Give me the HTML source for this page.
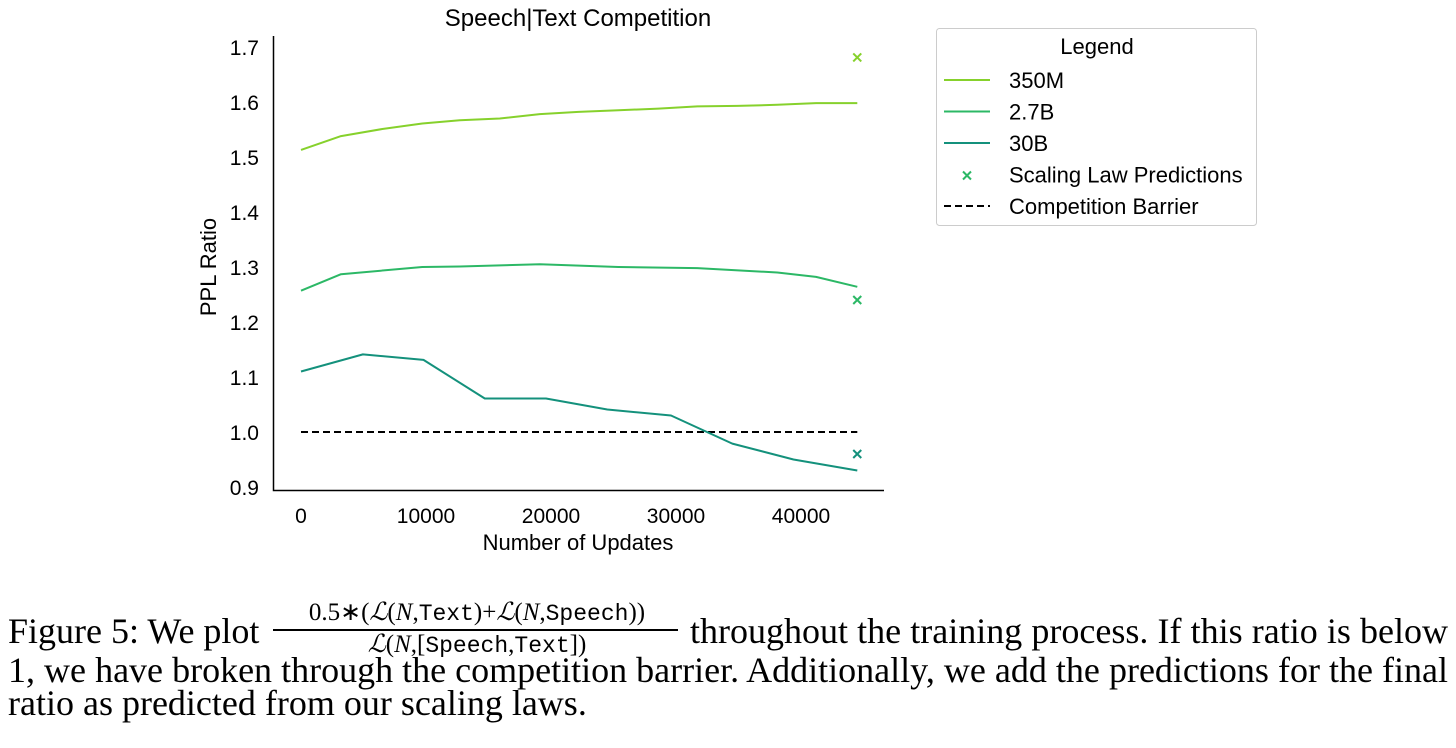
<!DOCTYPE html>
<html><head><meta charset="utf-8"><style>
html,body{margin:0;padding:0;background:#fff;width:1456px;height:748px;overflow:hidden;position:relative}
svg{position:absolute;left:0;top:0}
.cap{position:absolute;font-family:"Liberation Serif",serif;font-size:36px;line-height:40px;color:#000;white-space:nowrap}
.frac{position:absolute;font-family:"Liberation Serif",serif;font-size:25px;line-height:26px;white-space:nowrap;text-align:center}
.mono{font-family:"Liberation Mono",monospace;font-size:23px}
</style></head><body>
<svg id="chart" width="1456" height="590" font-family="Liberation Sans, sans-serif"></svg>

<div class="cap" style="left:8px;top:611px">Figure 5: We plot</div>
<div class="frac" style="left:262px;top:600px;width:430px">0.5∗(<i>ℒ</i>(<i>N</i>,<span class="mono">Text</span>)+<i>ℒ</i>(<i>N</i>,<span class="mono">Speech</span>))</div>
<div style="position:absolute;left:273px;top:629px;width:405px;height:1.5px;background:#000"></div>
<div class="frac" style="left:262px;top:632px;width:430px"><i>ℒ</i>(<i>N</i>,[<span class="mono">Speech</span>,<span class="mono">Text</span>])</div>
<div class="cap" style="left:690px;top:611px;width:758px;text-align:justify;text-align-last:justify">throughout the training process. If this ratio is below</div>
<div class="cap" style="left:8px;top:650px;width:1440px;text-align:justify;text-align-last:justify">1, we have broken through the competition barrier. Additionally, we add the predictions for the final</div>
<div class="cap" style="left:8px;top:683px">ratio as predicted from our scaling laws.</div>

<script>
const xTicks=[0,10000,20000,30000,40000];
const yTicks=[0.9,1.0,1.1,1.2,1.3,1.4,1.5,1.6,1.7];
const x350M=[0,3200,6500,9700,12700,15900,19100,22200,25400,28600,31700,34900,38100,41200,44500];
const y350M=[1.513,1.538,1.551,1.561,1.567,1.570,1.578,1.582,1.585,1.588,1.592,1.593,1.595,1.598,1.598];
const x27B=[0,3200,9700,12700,19100,25400,31700,38100,41200,44500];
const y27B=[1.257,1.287,1.300,1.301,1.305,1.300,1.298,1.290,1.282,1.264];
const x30B=[0,4950,9800,14700,19600,24500,29600,34500,39400,44500];
const y30B=[1.110,1.141,1.131,1.061,1.061,1.041,1.030,0.979,0.950,0.930];
const predX=[44500,44500,44500];
const predY=[1.681,1.240,0.960];
const barrierY=1.0;
const barrierX=[0,44500];

const NS="http://www.w3.org/2000/svg";
const svg=document.getElementById('chart');
function X(v){return 301+v*0.0125;}
function Y(v){return 432-(v-1.0)*550;}
function el(t,a,p){const e=document.createElementNS(NS,t);for(const k in a)e.setAttribute(k,a[k]);(p||svg).appendChild(e);return e;}
function txt(s,a){const e=el('text',a);e.textContent=s;return e;}

let t=txt('Speech|Text Competition',{x:578,y:26,'text-anchor':'middle','font-size':24,fill:'#000'});


let ax=el('path',{d:'M273.5,36 V490.5 H884',stroke:'#000','stroke-width':1.5,fill:'none'});


xTicks.forEach(v=>{const e=txt(String(v),{x:X(v),y:523,'text-anchor':'middle','font-size':21,fill:'#000'});

});
yTicks.forEach(v=>{const e=txt(v.toFixed(1),{x:259,y:Y(v)+8,'text-anchor':'end','font-size':21,fill:'#000'});

});
t=txt('Number of Updates',{x:578,y:550,'text-anchor':'middle','font-size':22,fill:'#000'});


t=txt('PPL Ratio',{x:0,y:0,'text-anchor':'middle','font-size':22,fill:'#000',transform:'translate(216,267) rotate(-90)'});



function line(xs,ys,c,name){const d=xs.map((x,i)=>(i?'L':'M')+X(x).toFixed(1)+','+Y(ys[i]).toFixed(1)).join(' ');
const p=el('path',{d:d,stroke:c,'stroke-width':2,fill:'none','stroke-linejoin':'round'});

}
const c350='#86d12c',c27='#2cb866',c30='#14917c';
line(barrierX,[barrierY,barrierY],'#000','competition-barrier');
svg.lastChild.setAttribute('stroke-dasharray','7,4');
line(x350M,y350M,c350,'line-350m');
line(x27B,y27B,c27,'line-2-7b');
line(x30B,y30B,c30,'line-30b');
const pc=[c350,c27,c30];
function cross(cx,cy,c,name){const s=4;const p=el('path',{d:`M${cx-s},${cy-s} L${cx+s},${cy+s} M${cx-s},${cy+s} L${cx+s},${cy-s}`,stroke:c,'stroke-width':2});

}
predX.forEach((x,i)=>cross(X(x),Y(predY[i]),pc[i],'scaling-law-prediction'));

const lg=el('g',{});


el('rect',{x:936.5,y:28.5,width:320,height:197,rx:3,fill:'#fff',stroke:'#ccc'},lg);
t=txt('Legend',{x:1097,y:54,'text-anchor':'middle','font-size':22,fill:'#000'});


const items=[['350M',c350,'l'],['2.7B',c27,'l'],['30B',c30,'l'],['Scaling Law Predictions',c27,'x'],['Competition Barrier','#000','d']];
items.forEach((it,i)=>{const y=80+i*31.5;
if(it[2]==='x'){cross(967,y+1,it[1],'legend-marker');}
else{const l=el('line',{x1:944,x2:990,y1:y,y2:y,stroke:it[1],'stroke-width':2});
if(it[2]==='d')l.setAttribute('stroke-dasharray','7,4');

}
const e=txt(it[0],{x:1009,y:y+8,'font-size':22,fill:'#000'});

});
</script>
</body></html>
